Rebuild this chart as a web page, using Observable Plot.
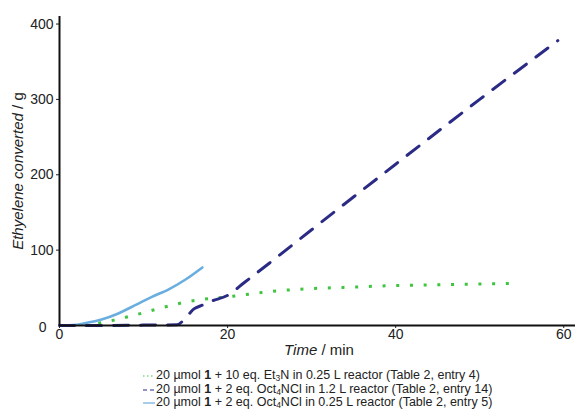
<!DOCTYPE html>
<html><head><meta charset="utf-8">
<script src="https://cdn.jsdelivr.net/npm/d3@7"></script>
<script src="https://cdn.jsdelivr.net/npm/@observablehq/plot@0.6"></script>
<style>
body{margin:0;background:#fff;font-family:"Liberation Sans",Arial,sans-serif;color:#222;}
#wrap{position:relative;width:577px;height:409px;overflow:hidden;}
.leg{position:absolute;left:143px;font-size:12.5px;line-height:13.5px;white-space:nowrap;display:flex;align-items:center;}
.leg svg{margin-right:1px;}
sub{font-size:8.5px;vertical-align:-2px;line-height:0;}
</style></head><body>
<div id="wrap"></div>
<script>
// Series A: 20 µmol 1 + 10 eq. Et3N, 0.25 L (green dotted)
const timeA = [3, 6, 9, 12, 15, 18, 20, 25, 30, 35, 40, 45, 50, 54];
const gramsA = [0, 6, 14, 23, 31, 36, 38, 45, 49, 51, 53, 54, 55, 56];
// Series B: 20 µmol 1 + 2 eq. Oct4NCl, 1.2 L (navy dashed)
const timeB = [0, 5, 10, 14, 15, 16, 17, 18, 20, 22, 25, 30, 40, 50, 59.3];
const gramsB = [0, 0, 0.5, 1, 10, 22, 27, 32, 40, 57, 83, 127, 214, 300, 378];
// Series C: 20 µmol 1 + 2 eq. Oct4NCl, 0.25 L (light blue solid)
const timeC = [0, 2, 3, 5, 7, 9, 11, 13, 15, 17];
const gramsC = [0, 1, 3, 8, 16, 27, 38, 48, 61, 77];
const xTicks = [0, 20, 40, 60];
const yTicks = [0, 100, 200, 300, 400];

const colA = "#3ec43e", colB = "#2b2b85", colC = "#6aaedf";
const rows = (t, g) => t.map((v, i) => ({t: v, g: g[i]}));

const plot = Plot.plot({
  width: 577, height: 362,
  marginLeft: 59, marginRight: 2, marginTop: 16, marginBottom: 37,
  style: {fontSize: "14px", fontFamily: "'Liberation Sans', Arial, sans-serif", color: "#222", background: "transparent"},
  x: {domain: [0, 61.4], label: null},
  y: {domain: [0, 410], label: null},
  marks: [
    Plot.axisX({ticks: xTicks, tickSize: 3, tickPadding: 1, label: null}),
    Plot.axisY({ticks: yTicks.filter(d => d !== 0), tickSize: 3, tickPadding: 3, label: null}),
    Plot.axisY({ticks: [0], tickSize: 0, tickPadding: 13, dy: 2, label: null}),
    Plot.line(rows(timeA, gramsA), {x: "t", y: "g", stroke: colA, strokeWidth: 3, strokeDasharray: "3,10.7", strokeLinecap: "butt", curve: "monotone-x"}),
    Plot.line(rows(timeC, gramsC), {x: "t", y: "g", stroke: colC, strokeWidth: 2.6, curve: "monotone-x"}),
    Plot.line(rows(timeB, gramsB), {x: "t", y: "g", stroke: colB, strokeWidth: 3, strokeDasharray: "15,12", curve: "monotone-x"}),
    Plot.ruleX([0], {stroke: "#111", strokeWidth: 2}),
    Plot.ruleY([0], {stroke: "#111", strokeWidth: 2})
  ]
});
const wrap = document.getElementById("wrap");
wrap.appendChild(plot);

const svg = d3.select(plot);
const yl = svg.append("text")
  .attr("transform", "translate(23,171) rotate(-90)")
  .attr("text-anchor", "middle")
  .attr("font-size", 15).attr("fill", "#222");
yl.append("tspan").attr("font-style", "italic").text("Ethyelene converted");
yl.append("tspan").text(" / g");
const xl = svg.append("text")
  .attr("x", 319).attr("y", 355)
  .attr("text-anchor", "middle")
  .attr("font-size", 15).attr("fill", "#222");
xl.append("tspan").attr("font-style", "italic").text("Time");
xl.append("tspan").text(" / min");

const legend = [
  {color: colA, dash: "1.5,2.5", html: "20 µmol <b>1</b> + 10 eq. Et<sub>3</sub>N in 0.25 L reactor (Table 2, entry 4)"},
  {color: colB, dash: "4,3", html: "20 µmol <b>1</b> + 2 eq. Oct<sub>4</sub>NCl in 1.2 L reactor (Table 2, entry 14)"},
  {color: colC, dash: null, html: "20 µmol <b>1</b> + 2 eq. Oct<sub>4</sub>NCl in 0.25 L reactor (Table 2, entry 5)"}
];
legend.forEach((d, i) => {
  const div = document.createElement("div");
  div.className = "leg";
  div.style.top = (369 + i * 13.5) + "px";
  div.innerHTML = `<svg width="12" height="13"><line x1="0" x2="12" y1="7" y2="7" stroke="${d.color}" stroke-width="1.2" ${d.dash ? `stroke-dasharray="${d.dash}"` : ""}/></svg><span>${d.html}</span>`;
  wrap.appendChild(div);
});
</script>
</body></html>
